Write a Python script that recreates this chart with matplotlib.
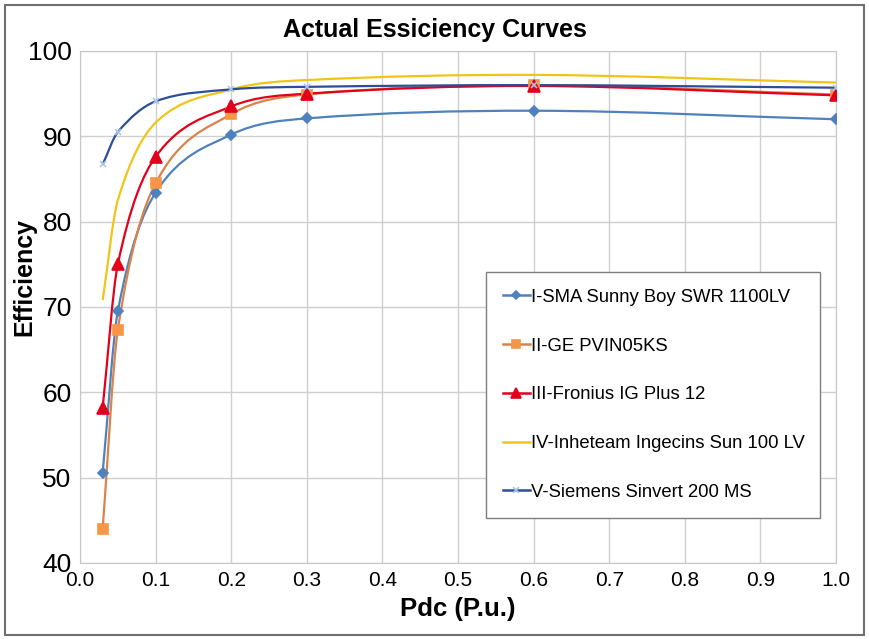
import matplotlib
matplotlib.use("Agg")
import matplotlib.pyplot as plt
from matplotlib.path import Path
from matplotlib.patches import PathPatch, Rectangle
from matplotlib.lines import Line2D
import numpy as np

# ── Data ─────────────────────────────────────────────────────────────────────
PDC = [0.03, 0.05, 0.1, 0.2, 0.3, 0.6, 1.0]

SMA      = [50.6, 69.5, 83.4, 90.2, 92.1, 93.0, 92.0]
GE       = [44.0, 67.3, 84.5, 92.6, 94.9, 96.0, 94.9]
FRONIUS  = [58.2, 75.0, 87.6, 93.5, 95.0, 95.9, 94.8]
INGECON  = [70.8, 82.5, 91.6, 95.5, 96.6, 97.2, 96.3]
SIEMENS  = [86.7, 90.5, 94.1, 95.5, 95.8, 96.0, 95.7]

LABELS = ["I-SMA Sunny Boy SWR 1100LV",
          "II-GE PVIN05KS",
          "III-Fronius IG Plus 12",
          "IV-Inheteam Ingecins Sun 100 LV",
          "V-Siemens Sinvert 200 MS"]

FONT = ["Liberation Sans", "DejaVu Sans"]

# line colour, marker, marker face, marker size
STYLES = [
    dict(color="#4f81bd", marker="D", mfc="#4f81bd", ms=5),
    dict(color="#d9834a", marker="s", mfc="#f79646", ms=7),
    dict(color="#e2001a", marker="^", mfc="#e2001a", ms=8),
    dict(color="#f2c417", marker="None", mfc="#f2c417", ms=0),
    dict(color="#2c4e9a", marker="x", mfc="#a9c6ea", ms=5),
]


def smooth_path(x, y):
    """Smoothed line: cubic Hermite (slopes from neighbours) as Bezier segments."""
    x = np.asarray(x, float)
    y = np.asarray(y, float)
    n = len(x)
    d = np.empty(n)
    d[0] = (y[1] - y[0]) / (x[1] - x[0])
    d[-1] = (y[-1] - y[-2]) / (x[-1] - x[-2])
    for i in range(1, n - 1):
        d[i] = (y[i + 1] - y[i - 1]) / (x[i + 1] - x[i - 1])
    verts = [(x[0], y[0])]
    codes = [Path.MOVETO]
    for i in range(n - 1):
        h = x[i + 1] - x[i]
        verts += [(x[i] + h / 3, y[i] + d[i] * h / 3),
                  (x[i + 1] - h / 3, y[i + 1] - d[i + 1] * h / 3),
                  (x[i + 1], y[i + 1])]
        codes += [Path.CURVE4] * 3
    return Path(verts, codes)


fig = plt.figure(figsize=(8.69, 6.39), dpi=100)
ax = fig.add_axes([80 / 869, 1 - 563 / 639, 756 / 869, 512 / 639])

series = [SMA, GE, FRONIUS, INGECON, SIEMENS]
handles = []
for vals, st, lab in zip(series, STYLES, LABELS):
    ax.add_patch(PathPatch(smooth_path(PDC, vals), fill=False,
                           edgecolor=st["color"], lw=1.6, zorder=3))
    if st["marker"] != "None":
        ax.plot(PDC, vals, ls="none", marker=st["marker"], ms=st["ms"],
                mfc=st["mfc"], mec=st["mfc"], mew=1.2, zorder=4)
    handles.append(Line2D([], [], color=st["color"], lw=1.8,
                          marker=st["marker"], ms=st["ms"] * 0.9,
                          mfc=st["mfc"], mec=st["mfc"], mew=1.2))

ax.set_xlim(0, 1.0)
ax.set_ylim(40, 100)
ax.set_xticks(np.arange(0, 1.01, 0.1))
ax.set_yticks(np.arange(40, 101, 10))
ax.set_xticklabels([f"{t:.1f}" for t in np.arange(0, 1.01, 0.1)],
                   family=FONT, fontsize=15)
ax.set_yticklabels([str(t) for t in range(40, 101, 10)], family=FONT, fontsize=19)
ax.tick_params(axis="x", length=0, pad=6)
ax.tick_params(axis="y", length=0, pad=6)
ax.grid(True, color="#cfcfcf", lw=1.0)
ax.set_axisbelow(True)
for sp in ax.spines.values():
    sp.set_color("#c8c8c8")

ax.set_xlabel("Pdc (P.u.)", family=FONT, fontsize=18.5, fontweight="bold",
              labelpad=5)
ax.set_ylabel("Efficiency", family=FONT, fontsize=18, fontweight="bold")
ax.yaxis.set_label_coords(-0.058, 0.559)
fig.text(0.5, 0.953, "Actual Essiciency Curves", family=FONT, fontsize=18,
         fontweight="bold", ha="center", va="center")

leg = ax.legend(handles, LABELS, loc="upper left",
                bbox_to_anchor=(0.537, 0.568, 0.442, 0.0), mode="expand",
                prop=dict(family=FONT, size=13.3), labelspacing=1.72,
                handlelength=1.5, handletextpad=0.05, borderpad=0.9,
                borderaxespad=0, fancybox=False, framealpha=1)
leg.get_frame().set_edgecolor("#7f7f7f")
leg.get_frame().set_linewidth(1.0)

# outer frame around the whole chart
fig.patches.append(Rectangle((5 / 869, 4 / 639), 859 / 869, 630 / 639,
                             transform=fig.transFigure, fill=False,
                             edgecolor="#6f6f6f", lw=1.5))

fig.savefig("out.png", dpi=100)
